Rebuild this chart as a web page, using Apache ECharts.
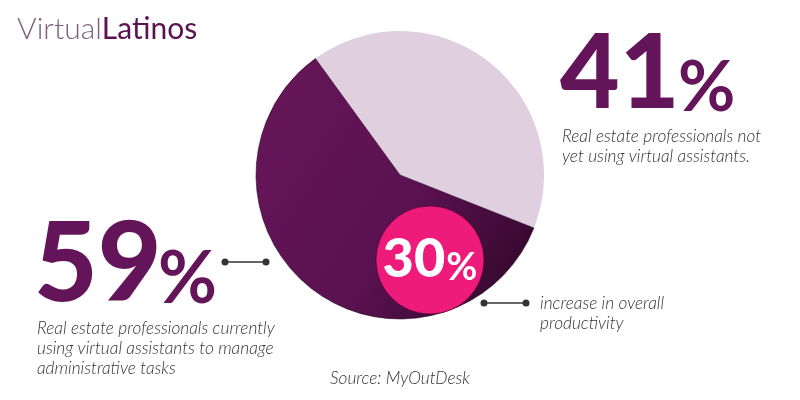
<!DOCTYPE html>
<html>
<head>
<meta charset="utf-8">
<script src="https://cdn.jsdelivr.net/npm/echarts@6/dist/echarts.min.js"></script>
<style>html,body{margin:0;padding:0;background:#fff;}#c{width:800px;height:400px;}</style>
</head>
<body>
<div id="c"></div>
<script>
// ---- data ----
const categories = ['Not yet using virtual assistants', 'Currently using virtual assistants'];
const shares = [41, 59];
const productivityIncrease = 30;
const notUsingText = ['Real estate professionals not', 'yet using virtual assistants.'];
const usingText = ['Real estate professionals currently', 'using virtual assistants to manage', 'administrative tasks'];
const productivityText = ['increase in overall', 'productivity'];
const sourceText = 'Source: MyOutDesk';

const purple = '#641459';
const textGray = '#333333';
const bodyFont = 'Lato';
const descFont = 'italic 300 17.3px ' + bodyFont;

const chart = echarts.init(document.getElementById('c'), null, {renderer: 'canvas'});

function lines(arr, x, y0, step) {
  return arr.map((t, i) => ({
    type: 'text', z: 10,
    style: {
      x: x, y: y0 + i * step, text: t, fill: textGray,
      font: descFont, verticalAlign: 'middle', align: 'left'
    }
  }));
}
function connector(x1, x2, y) {
  return [
    {type: 'line', z: 10, shape: {x1: x1, y1: y, x2: x2, y2: y}, style: {stroke: textGray, lineWidth: 1.5}},
    {type: 'circle', z: 10, shape: {cx: x1, cy: y, r: 3.5}, style: {fill: textGray}},
    {type: 'circle', z: 10, shape: {cx: x2, cy: y, r: 3.5}, style: {fill: textGray}}
  ];
}

const graphic = [].concat(
  [{
    type: 'text', z: 10,
    style: {
      x: 17, y: 29, verticalAlign: 'middle',
      text: '{v|Virtual}{l|Latinos}',
      rich: {
        v: {fontFamily: bodyFont, fontWeight: 300, fontSize: 30, fill: '#7e5e7c'},
        l: {fontFamily: bodyFont, fontWeight: 400, fontSize: 30, fill: '#5a1250'}
      }
    }
  },
  {type: 'text', z: 10, style: {x: 560, y: 75, text: String(shares[0]), fill: purple, font: '900 103px ' + bodyFont, verticalAlign: 'middle'}},
  {type: 'text', z: 10, style: {x: 678, y: 88, text: '%', fill: purple, font: '700 70px ' + bodyFont, verticalAlign: 'middle'}},
  {type: 'text', z: 10, style: {x: 34, y: 266, text: String(shares[1]), fill: purple, font: '900 110px ' + bodyFont, verticalAlign: 'middle'}},
  {type: 'text', z: 10, style: {x: 158, y: 280, text: '%', fill: purple, font: '700 72px ' + bodyFont, verticalAlign: 'middle'}}
  ],
  lines(notUsingText, 562, 136, 20),
  lines(usingText, 37, 328, 20),
  lines(productivityText, 540, 303, 20),
  [{type: 'text', z: 10, style: {x: 400, y: 378, text: sourceText, fill: textGray, font: descFont, verticalAlign: 'middle', align: 'center'}}],
  connector(225, 266, 262),
  connector(484, 526, 303)
);

chart.setOption({
  backgroundColor: '#ffffff',
  animation: false,
  graphic: graphic,
  series: [
    {
      type: 'pie',
      center: [400, 175],
      radius: [0, 144],
      startAngle: 126,
      clockwise: true,
      silent: true,
      label: {show: false},
      labelLine: {show: false},
      data: [
        {name: categories[0], value: shares[0], itemStyle: {color: '#dfcfdf'}},
        {name: categories[1], value: shares[1], itemStyle: {
          color: new echarts.graphic.LinearGradient(0, 0.2, 1, 0.9, [
            {offset: 0, color: '#661659'},
            {offset: 0.55, color: '#5a1150'},
            {offset: 1, color: '#300729'}
          ]),
          borderColor: '#2a0624', borderWidth: 0.6
        }}
      ]
    },
    {
      type: 'pie',
      center: [430, 260],
      radius: [0, 54],
      silent: true,
      z: 5,
      labelLine: {show: false},
      itemStyle: {color: '#ef1b7a', borderColor: 'rgba(40,0,30,0.5)', borderWidth: 1},
      label: {
        show: true, position: 'center',
        formatter: p => '{a|' + p.value + '}{b|%}',
        rich: {
          a: {fontFamily: bodyFont, fontWeight: 900, fontSize: 54, color: '#ffffff', verticalAlign: 'bottom', lineHeight: 54},
          b: {fontFamily: bodyFont, fontWeight: 700, fontSize: 38, color: '#ffffff', verticalAlign: 'bottom', lineHeight: 54, padding: [0, 0, 0, 1]}
        }
      },
      data: [{name: 'Productivity increase', value: productivityIncrease}]
    }
  ]
});
</script>
</body>
</html>
